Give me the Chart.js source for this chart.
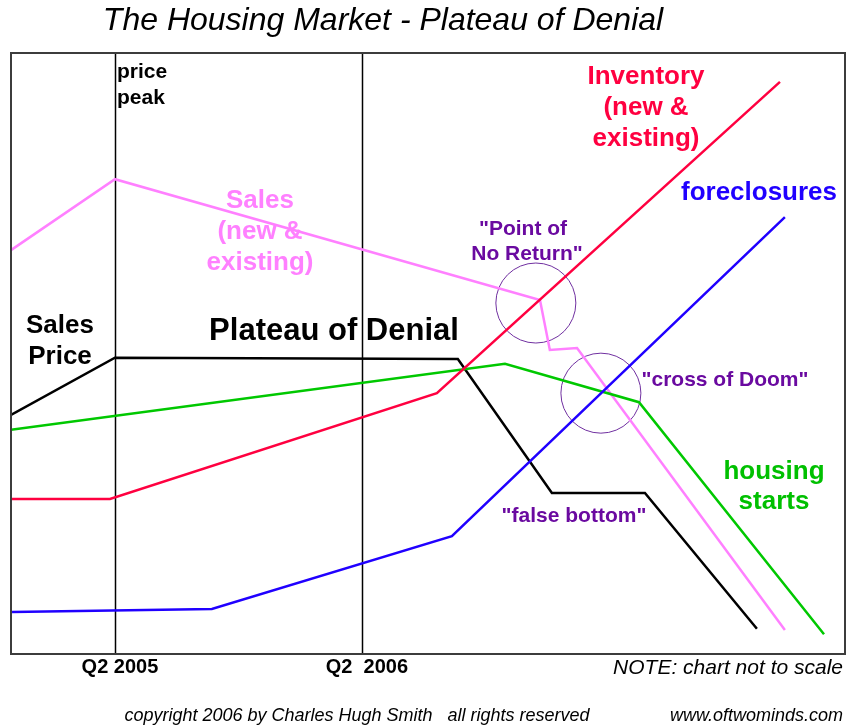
<!DOCTYPE html>
<html>
<head>
<meta charset="utf-8">
<script src="https://cdn.jsdelivr.net/npm/chart.js@4"></script>
<style>
  html, body { margin: 0; padding: 0; background: #fff; }
  #wrap { width: 846px; height: 727px; position: relative; }
</style>
</head>
<body>
<div id="wrap"><canvas id="housingChart"></canvas></div>
<script>
// x = months after Q2 2005, y = relative level (not to scale)
const salesX   = [-5.05, 0, 20.65, 21.13, 22.45, 32.55];
const salesY   = [67.2, 79.0, 58.9, 50.6, 50.9, 4.0];
const priceX   = [-5.05, 0, 16.66, 21.23, 25.75, 31.19];
const priceY   = [39.8, 49.3, 49.1, 26.8, 26.8, 4.2];
const startsX  = [-5.05, 18.95, 25.46, 34.45];
const startsY  = [37.3, 48.3, 41.9, 3.3];
const invX     = [-5.05, -0.24, 15.64, 32.31];
const invY     = [25.8, 25.8, 43.4, 95.2];
const forecX   = [-5.0, 4.71, 16.37, 32.55];
const forecY   = [7.0, 7.5, 19.6, 72.7];
const circleX  = [20.45, 23.61];
const circleY  = [58.4, 43.4];
const markerX  = [0, 12];
const markerLabels = ['Q2 2005', 'Q2  2006'];

const pts = (xs, ys) => xs.map((x, i) => ({ x: x, y: ys[i] }));

function line(label, xs, ys, color) {
    return {
        type: 'line',
        label: label,
        data: pts(xs, ys),
        borderColor: color,
        borderWidth: 2.5,
        pointRadius: 0,
        tension: 0,
        fill: false
    };
}

// frame, vertical markers and all the hand-placed text
const decor = {
    id: 'decor',
    beforeDatasetsDraw(chart) {
        const { ctx, chartArea: a, scales: { x } } = chart;
        ctx.save();
        ctx.strokeStyle = '#000';
        ctx.lineWidth = 1.5;
        markerX.forEach(v => {
            const px = Math.round(x.getPixelForValue(v)) + 0.5;
            ctx.beginPath();
            ctx.moveTo(px, a.top);
            ctx.lineTo(px, a.bottom);
            ctx.stroke();
        });
        ctx.restore();
    },
    afterDatasetsDraw(chart) {
        const { ctx, chartArea: a, scales: { x } } = chart;
        ctx.save();
        ctx.strokeStyle = '#3c3c3c';
        ctx.lineWidth = 2;
        ctx.strokeRect(a.left, a.top, a.right - a.left, a.bottom - a.top);

        ctx.textBaseline = 'middle';
        const put = (txt, px, py, font, color, align) => {
            ctx.font = font;
            ctx.fillStyle = color;
            ctx.textAlign = align || 'center';
            ctx.fillText(txt, px, py);
        };
        const B = 'bold ', F = 'px "Liberation Sans", Arial, sans-serif';
        const purple = '#6a0aa0';

        put('The Housing Market - Plateau of Denial', 383, 21, 'italic 32' + F, '#000');

        put('price', 117, 72, B + '21' + F, '#000', 'left');
        put('peak', 117, 98, B + '21' + F, '#000', 'left');

        ['Inventory', '(new &', 'existing)'].forEach((t, i) =>
            put(t, 646, 77 + i * 31, B + '26' + F, '#ff0040'));
        put('foreclosures', 759, 193, B + '26' + F, '#2000ff');
        ['Sales', '(new &', 'existing)'].forEach((t, i) =>
            put(t, 260, 201 + i * 31, B + '26' + F, '#ff80ff'));
        put('"Point of', 523, 229, B + '21' + F, purple);
        put('No Return"', 527, 254, B + '21' + F, purple);
        put('Sales', 60, 326, B + '26' + F, '#000');
        put('Price', 60, 357, B + '26' + F, '#000');
        put('Plateau of Denial', 334, 331, B + '31' + F, '#000');
        put('"cross of Doom"', 725, 380, B + '21' + F, purple);
        put('housing', 774, 472, B + '26' + F, '#00c000');
        put('starts', 774, 502, B + '26' + F, '#00c000');
        put('"false bottom"', 574, 516, B + '21' + F, purple);

        markerX.forEach((v, i) =>
            put(markerLabels[i], x.getPixelForValue(v) + 5, 667, B + '20' + F, '#000'));
        put('NOTE: chart not to scale', 843, 668, 'italic 21' + F, '#000', 'right');
        put('copyright 2006 by Charles Hugh Smith   all rights reserved', 357, 716, 'italic 18' + F, '#000');
        put('www.oftwominds.com', 843, 716, 'italic 18' + F, '#000', 'right');
        ctx.restore();
    }
};

new Chart(document.getElementById('housingChart'), {
    data: {
        datasets: [
            line('Inventory', invX, invY, '#ff0040'),
            line('Foreclosures', forecX, forecY, '#2000ff'),
            line('Housing starts', startsX, startsY, '#00c800'),
            line('Sales', salesX, salesY, '#ff80ff'),
            line('Sales price', priceX, priceY, '#000000'),
            {
                type: 'bubble',
                label: 'circles',
                data: circleX.map((v, i) => ({ x: v, y: circleY[i], r: 40 })),
                backgroundColor: 'rgba(0,0,0,0)',
                borderColor: '#7030a0',
                borderWidth: 1
            }
        ]
    },
    options: {
        responsive: true,
        maintainAspectRatio: false,
        animation: false,
        layout: { autoPadding: false, padding: { left: 11, right: 1, top: 53, bottom: 73 } },
        plugins: { legend: { display: false }, tooltip: { enabled: false } },
        scales: {
            x: { type: 'linear', min: -5.05, max: 35.47, display: false },
            y: { type: 'linear', min: 0, max: 100, display: false }
        }
    },
    plugins: [decor]
});
</script>
</body>
</html>
